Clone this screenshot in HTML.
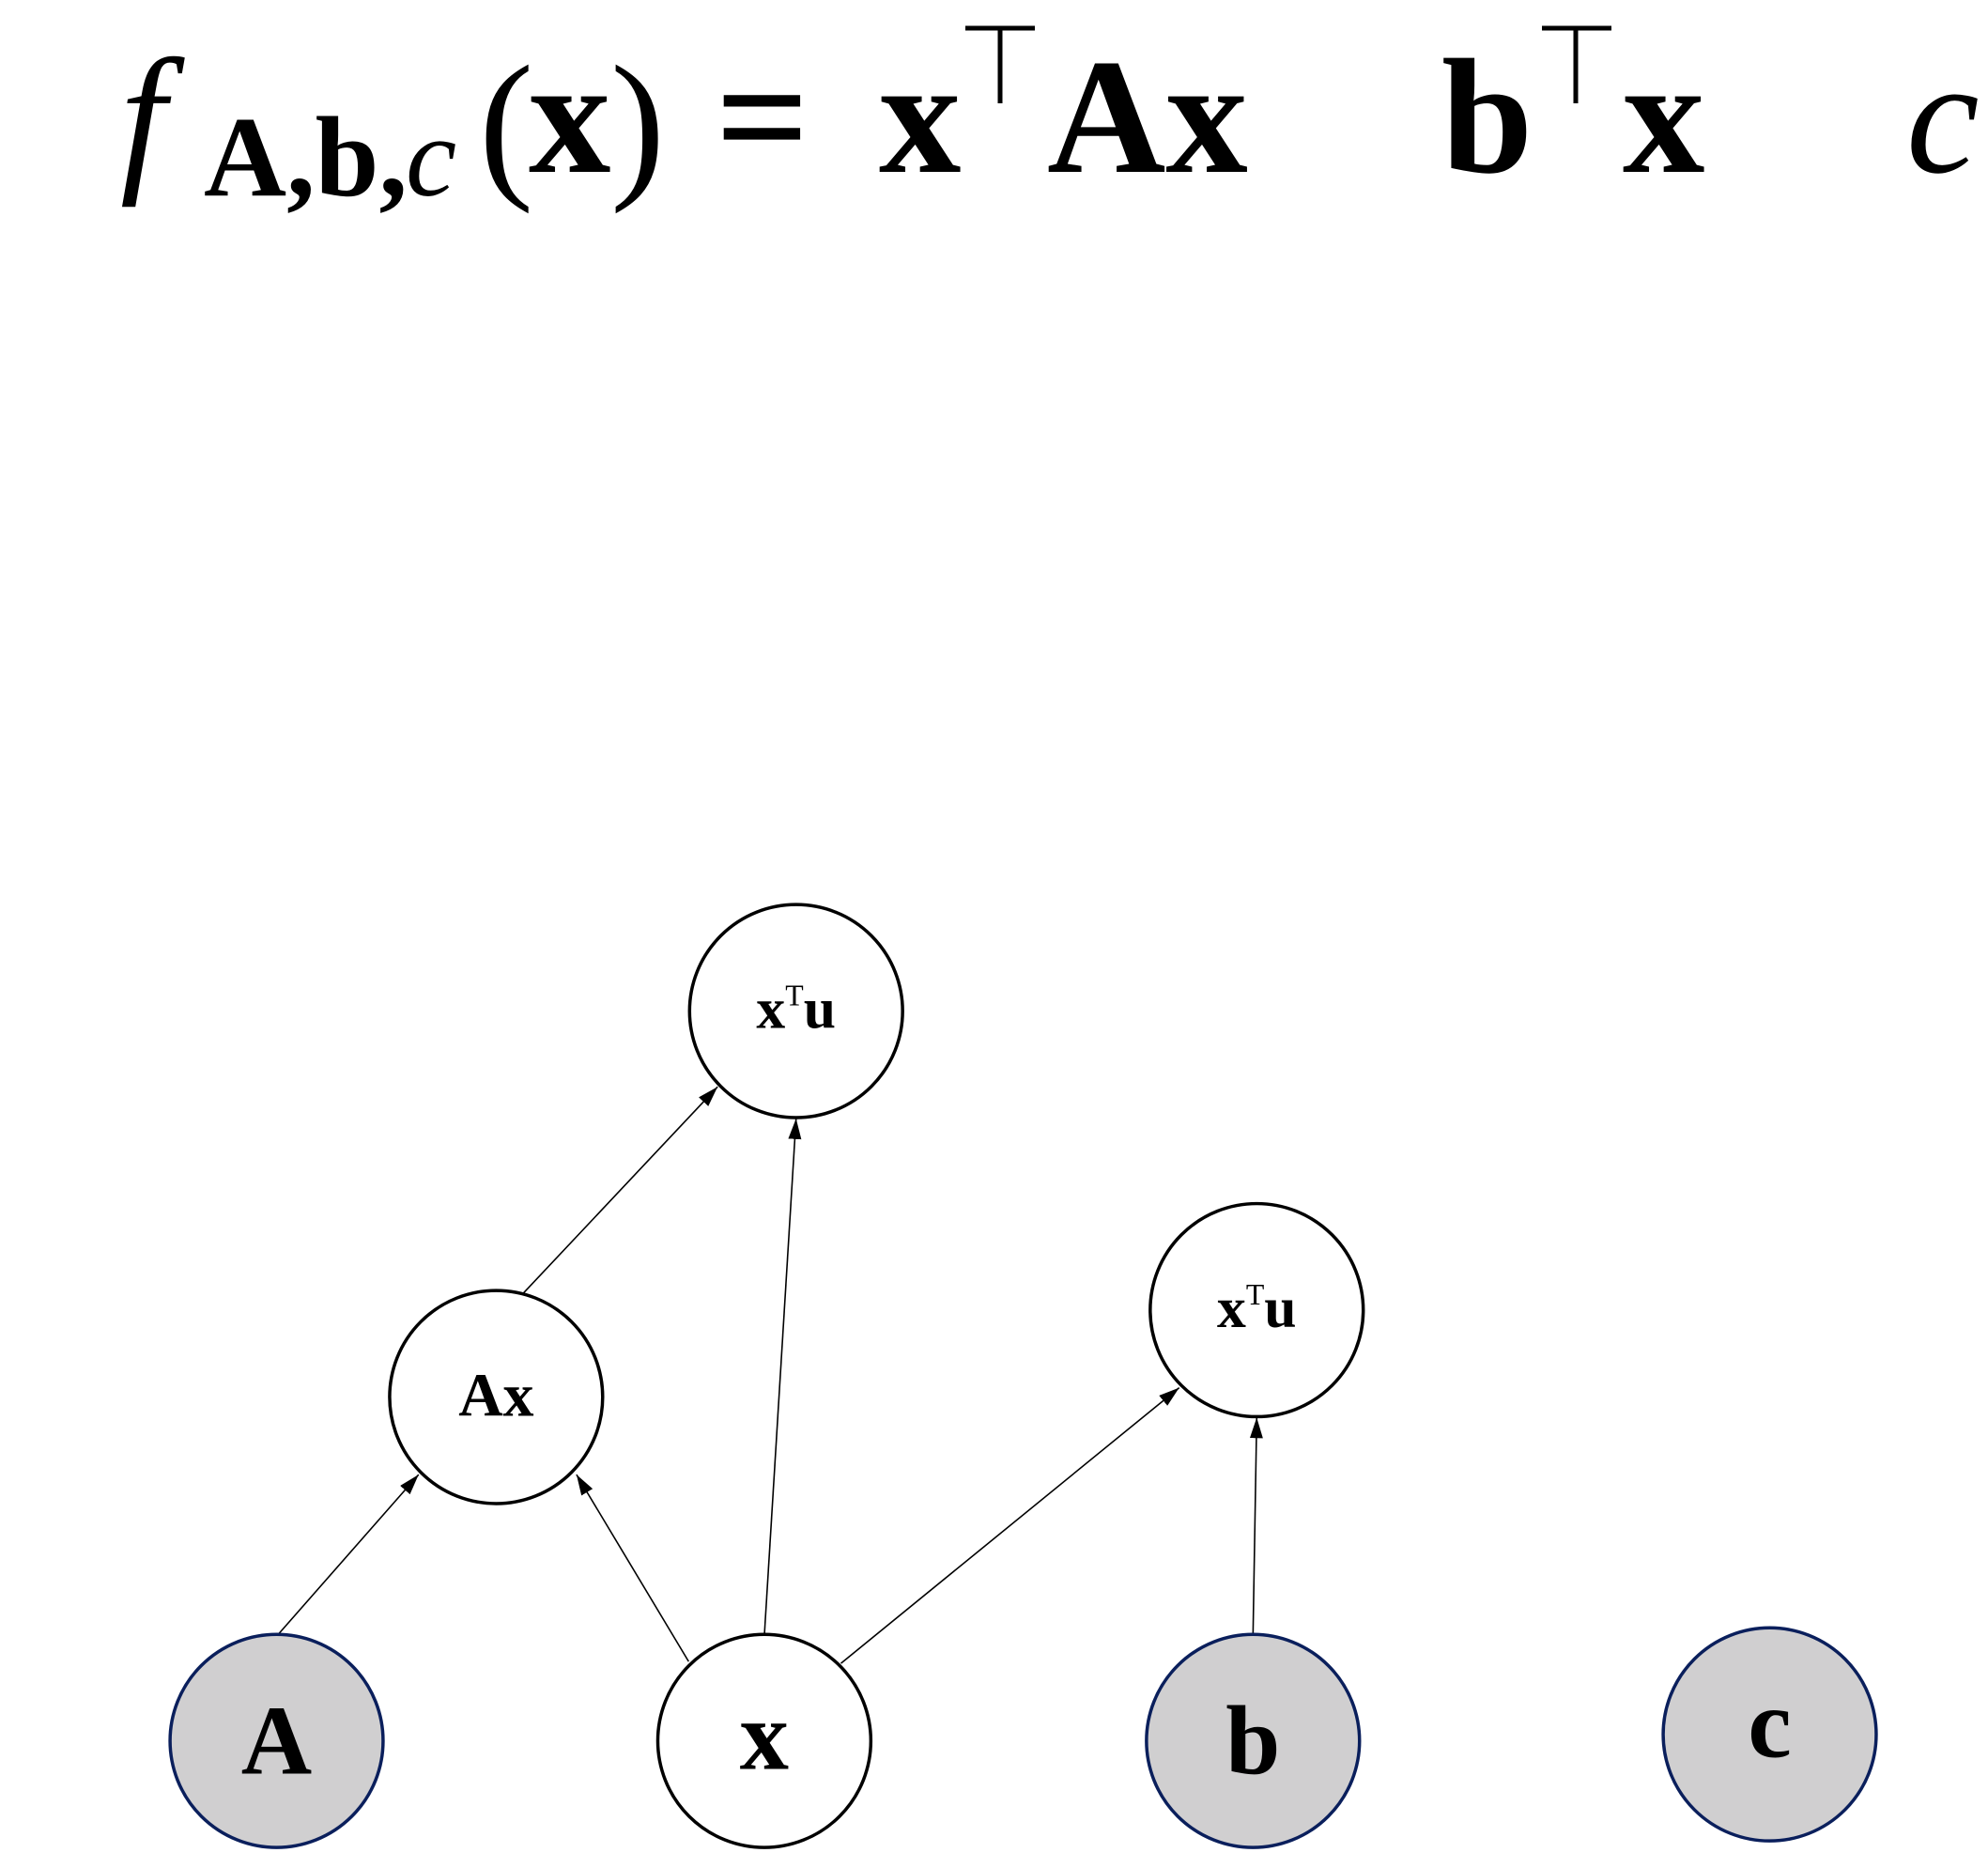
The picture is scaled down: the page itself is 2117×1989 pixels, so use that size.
<!DOCTYPE html>
<html><head><meta charset="utf-8"><style>
html,body{margin:0;padding:0;background:#fff;}
svg{display:block;}
</style></head><body>
<svg width="2117" height="1989" viewBox="0 0 2117 1989" xmlns="http://www.w3.org/2000/svg">
<defs>
<marker id="ah" markerWidth="22" markerHeight="14" refX="22" refY="7" orient="auto" markerUnits="userSpaceOnUse" viewBox="0 0 22 14">
<path d="M0,0 L22,7 L0,14 Z" fill="#000"/>
</marker>
</defs>
<g font-family="Liberation Serif, serif" fill="#000">
<text x="128" y="183" font-size="175" font-style="italic">f</text>
<text x="217" y="208" font-size="122" font-weight="bold">A,b,</text>
<text x="432" y="208" font-size="122" font-style="italic">c</text>
<text x="510" y="190" font-size="175">(</text>
<text x="563" y="183" font-size="175" font-weight="bold">x</text>
<text x="650" y="190" font-size="175">)</text>
<text x="762" y="183" font-size="175" font-weight="bold">=</text>
<text x="936" y="183" font-size="175" font-weight="bold">x</text>
<text x="1115" y="183" font-size="175" font-weight="bold">Ax</text>
<text x="1535" y="183" font-size="175" font-weight="bold">b</text>
<text x="1728" y="183" font-size="175" font-weight="bold">x</text>
<text x="2030" y="183" font-size="175" font-style="italic">c</text>
</g>
<g stroke="#000" stroke-width="5">
<line x1="1028" y1="30" x2="1102" y2="30"/><line x1="1065" y1="30" x2="1065" y2="110"/>
<line x1="1642" y1="30" x2="1716" y2="30"/><line x1="1678" y1="30" x2="1678" y2="110"/>
</g>
<g transform="scale(0.995)">
<g stroke="#000" stroke-width="1.6" fill="none" marker-end="url(#ah)">
<line x1="296" y1="1751" x2="448" y2="1578"/>
<line x1="737" y1="1778" x2="617" y2="1578"/>
<line x1="818" y1="1751" x2="852" y2="1197"/>
<line x1="560" y1="1384" x2="768" y2="1163"/>
<line x1="900" y1="1780" x2="1262" y2="1485"/>
<line x1="1341" y1="1751" x2="1345" y2="1517"/>
</g>
<g stroke-width="3.5">
<circle cx="852" cy="1082" r="114" fill="#fff" stroke="#000"/>
<circle cx="531" cy="1495" r="114" fill="#fff" stroke="#000"/>
<circle cx="1345" cy="1402" r="114" fill="#fff" stroke="#000"/>
<circle cx="818" cy="1863" r="114" fill="#fff" stroke="#000"/>
<circle cx="296" cy="1863" r="114" fill="#d0cfd0" stroke="#0a1f5c"/>
<circle cx="1341" cy="1863" r="114" fill="#d0cfd0" stroke="#0a1f5c"/>
<circle cx="1894" cy="1856" r="114" fill="#d0cfd0" stroke="#0a1f5c"/>
</g>
<g font-family="Liberation Serif, serif" font-weight="bold" fill="#000" text-anchor="middle">
<text x="852" y="1100" font-size="62">x<tspan font-size="32" font-weight="normal" dy="-24">T</tspan><tspan dy="24">u</tspan></text>
<text x="1345" y="1420" font-size="62">x<tspan font-size="32" font-weight="normal" dy="-24">T</tspan><tspan dy="24">u</tspan></text>
<text x="531" y="1515" font-size="66">Ax</text>
<text x="296" y="1898" font-size="105">A</text>
<text x="818" y="1893" font-size="105">x</text>
<text x="1341" y="1898" font-size="105">b</text>
<text x="1894" y="1880" font-size="105">c</text>
</g>
</g>
</svg>
</body></html>
